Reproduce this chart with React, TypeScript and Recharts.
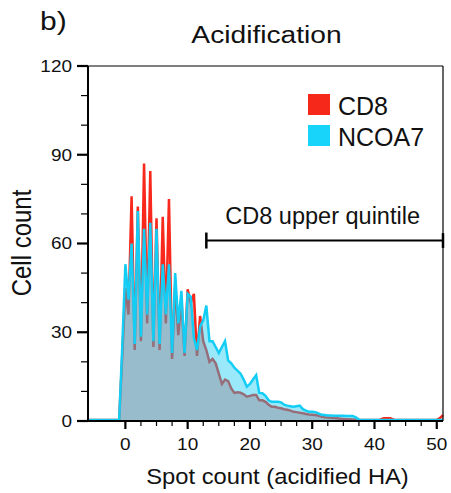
import React from "react";
import { ComposedChart, Area, XAxis, YAxis, ReferenceLine, Legend } from "recharts";

const FONT = '"Liberation Sans", Helvetica, Arial, sans-serif';
const RED = "#f8281c";
const CYAN = "#14cdf5";

// histogram bins: 0.5 spot-count steps from -6 to 51
const binStart = -6;
const binWidth = 0.5;

const cd8Counts = [
  0.3, 0.3, 0.3, 0.3, 0.3, 0.3, 0.3, 0.3, 0.3, 0.3, 0.3,
  22, 45, 36, 76, 24, 72.5, 27, 87, 33, 84.5, 25, 68.5, 24, 69, 33, 75, 21,
  46, 29, 41, 22, 44.5, 40, 43, 22, 35.5, 27, 24, 20, 21, 19.5, 16, 12.5,
  14, 13.5, 11, 9.5, 9.7, 9.6, 9, 8.2, 8.5, 8.8, 8.8, 7, 7, 6.5, 5.5, 4.8,
  4.8, 4.5, 4.3, 4, 3.8, 3.5, 3.1, 3, 2.8, 2.6, 2.4, 2.2, 2.1, 2, 1.8, 1.5,
  1.3, 1.2, 1.1, 1, 0.9, 0.8, 0.7, 0.6, 0.6, 0.5, 0.4, 0.3,
  0.3, 0.3, 0.3, 0.3, 0.3, 0.3, 0.5, 0.9, 0.9, 0.9, 0.5, 0.3, 0.3, 0.3,
  0.3, 0.3, 0.3, 0.3, 0.3, 0.3, 0.3, 0.3, 0.3, 0.3, 0.3, 1, 2,
];

const ncoa7Counts = [
  0.3, 0.3, 0.3, 0.3, 0.3, 0.3, 0.3, 0.3, 0.3, 0.3, 0.3,
  25, 53, 41, 60, 26, 71, 28.5, 65, 36, 67, 27, 65, 26, 53, 36, 53, 23,
  50, 33, 44, 23, 43, 42, 28, 24, 32, 34, 39, 27, 27, 25, 23, 25,
  27, 20.5, 19.5, 18, 17, 16, 14, 11.6, 12.5, 14, 15.5, 9.5, 9.4, 8.5, 7, 6.5,
  6.5, 6.5, 6.3, 5.5, 5.2, 5, 4.8, 5, 5.2, 4, 3.5, 3.1, 3.1, 3, 2.6, 2.1,
  2, 1.9, 1.9, 1.8, 1.8, 1.8, 1.8, 1.7, 1.7, 1.7, 1.2, 0.5,
  0.3, 0.3, 0.3, 0.3, 0.3, 0.3, 0.3, 0.3, 0.3, 0.3, 0.3, 0.3, 0.3, 0.3,
  0.3, 0.3, 0.3, 0.3, 0.3, 0.3, 0.3, 0.3, 0.3, 0.3, 0.3, 0.3, 0.3,
];

const xTicks = [0, 2.5, 5, 7.5, 10, 12.5, 15, 17.5, 20, 22.5, 25, 27.5, 30, 32.5, 35, 37.5, 40, 42.5, 45, 47.5, 50];
const yTicks = [0, 10, 20, 30, 40, 50, 60, 70, 80, 90, 100, 110, 120];

// "upper quintile" bracket
const quintileFrom = 13;
const quintileTo = 51;
const quintileLevel = 61;

const data = cd8Counts.map((cd8, i) => ({
  spots: binStart + i * binWidth,
  cd8,
  ncoa7: ncoa7Counts[i],
}));

function Stretched({ x, y, size, sx = 1.15, anchor = "middle", rotate = 0, children }: any) {
  return (
    <g transform={`translate(${x},${y}) scale(${sx},1)${rotate ? ` rotate(${rotate})` : ""}`}>
      <text x={0} y={0} fontSize={size} textAnchor={anchor} fill="#111" fontFamily={FONT}>
        {children}
      </text>
    </g>
  );
}

function XTick({ x, y, payload }: any) {
  const v = payload.value;
  const major = v % 10 === 0;
  return (
    <g>
      <line x1={x} x2={x} y1={y} y2={y + (major ? 8 : 5)} stroke="#000" strokeWidth={major ? 2.2 : 1.2} />
      {major && (
        <Stretched x={x} y={y + 29} size={16.5}>
          {v}
        </Stretched>
      )}
    </g>
  );
}

function YTick({ x, y, payload }: any) {
  const v = payload.value;
  const major = v % 30 === 0;
  return (
    <g>
      <line x1={x - (major ? 11 : 7)} x2={x} y1={y} y2={y} stroke="#000" strokeWidth={major ? 2.2 : 1.2} />
      {major && (
        <Stretched x={x - 16} y={y + 5.8} size={16.5} anchor="end">
          {v}
        </Stretched>
      )}
    </g>
  );
}

function LegendBox() {
  const rows = [
    { name: "CD8", color: "#f5281a" },
    { name: "NCOA7", color: "#19d4fa" },
  ];
  return (
    <svg width={140} height={62}>
      {rows.map((r, i) => (
        <g key={r.name}>
          <rect x={0} y={1 + i * 31} width={22} height={21} fill={r.color} />
          <text x={30} y={22 + i * 30.5} fontSize={25} fill="#111" fontFamily={FONT}>
            {r.name}
          </text>
        </g>
      ))}
    </svg>
  );
}

export default function App() {
  return (
    <div style={{ position: "fixed", left: 0, top: 0, width: 451, height: 493, background: "#fff" }}>
      <ComposedChart width={451} height={493} data={data} margin={{ top: 66, right: 8, left: 0, bottom: 0 }}>
        <XAxis
          type="number"
          dataKey="spots"
          domain={[-6, 51]}
          ticks={xTicks}
          interval={0}
          height={72}
          tickSize={0}
          tickMargin={0}
          tickLine={false}
          tick={<XTick />}
          axisLine={{ stroke: "#000", strokeWidth: 2 }}
        />
        <YAxis
          type="number"
          domain={[0, 120]}
          ticks={yTicks}
          interval={0}
          width={88}
          tickSize={0}
          tickMargin={0}
          tickLine={false}
          tick={<YTick />}
          axisLine={{ stroke: "#000", strokeWidth: 2 }}
        />
        <Area
          type="linear"
          dataKey="cd8"
          stroke={RED}
          strokeWidth={2.5}
          fill={RED}
          fillOpacity={0.37}
          dot={false}
          activeDot={false}
          isAnimationActive={false}
        />
        <Area
          type="linear"
          dataKey="ncoa7"
          stroke={CYAN}
          strokeWidth={2.5}
          fill={CYAN}
          fillOpacity={0.43}
          dot={false}
          activeDot={false}
          isAnimationActive={false}
        />
        <ReferenceLine y={120} stroke="#000" strokeWidth={1.2} />
        <ReferenceLine x={51} stroke="#000" strokeWidth={1.2} />
        <ReferenceLine
          segment={[
            { x: quintileFrom, y: quintileLevel },
            { x: quintileTo, y: quintileLevel },
          ]}
          stroke="#000"
          strokeWidth={2}
          label={{
            value: "CD8 upper quintile",
            position: "top",
            offset: 17,
            fontSize: 23.5,
            fill: "#111",
            fontFamily: FONT,
            dx: -2,
          }}
        />
        <ReferenceLine
          segment={[
            { x: quintileFrom, y: quintileLevel - 2.7 },
            { x: quintileFrom, y: quintileLevel + 2.7 },
          ]}
          stroke="#000"
          strokeWidth={2.5}
        />
        <ReferenceLine
          segment={[
            { x: quintileTo, y: quintileLevel - 2.5 },
            { x: quintileTo, y: quintileLevel + 2.5 },
          ]}
          stroke="#000"
          strokeWidth={2.5}
        />
        <Legend
          layout="horizontal"
          verticalAlign="middle"
          align="center"
          content={<LegendBox />}
          wrapperStyle={{ left: 308, top: 93, width: 140, height: 62 }}
        />
      </ComposedChart>
      <svg width={451} height={493} style={{ position: "absolute", left: 0, top: 0, pointerEvents: "none" }}>
        <Stretched x={40} y={30} size={25} sx={1.2} anchor="start">
          b)
        </Stretched>
        <Stretched x={266.5} y={42.7} size={24.5}>
          Acidification
        </Stretched>
        <Stretched x={277.5} y={484} size={22} sx={1.08}>
          Spot count (acidified HA)
        </Stretched>
        <Stretched x={31} y={243} size={24} rotate={-90}>
          Cell count
        </Stretched>
      </svg>
    </div>
  );
}
